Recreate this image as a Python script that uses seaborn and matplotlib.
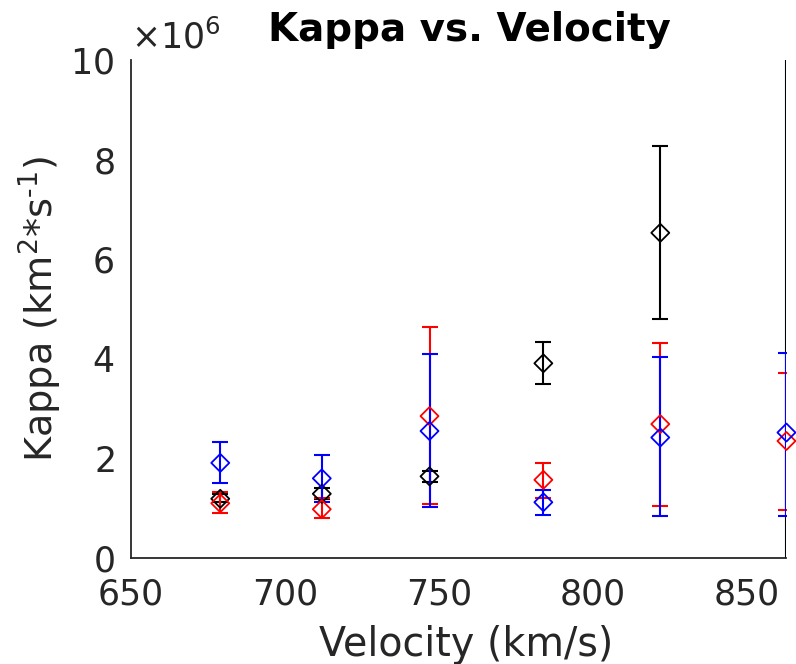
import numpy as np
import matplotlib
matplotlib.use("Agg")
import matplotlib.pyplot as plt
from matplotlib.ticker import ScalarFormatter
import seaborn as sns

# Velocities (km/s) and kappa estimates (in units of 1e6 km^2/s) with error half-widths
velocity = [679, 712, 747, 784, 822, 863]

kappa_black = [1.19, 1.29, 1.64, 3.91, 6.53, 14.0]
err_black_lo = [0.07, 0.11, 0.11, 0.42, 1.74, 15.0]
err_black_hi = [0.10, 0.11, 0.11, 0.43, 1.75, 15.0]

kappa_red = [1.10, 0.98, 2.85, 1.57, 2.69, 2.35]
err_red_lo = [0.19, 0.18, 1.77, 0.36, 1.64, 1.38]
err_red_hi = [0.22, 0.22, 1.78, 0.33, 1.63, 1.36]

kappa_blue = [1.91, 1.60, 2.55, 1.12, 2.42, 2.52]
err_blue_lo = [0.40, 0.47, 1.52, 0.26, 1.58, 1.67]
err_blue_hi = [0.41, 0.47, 1.55, 0.25, 1.61, 1.60]

SCALE = 1e6

sns.set_style("white")
plt.rcParams["font.family"] = ["DejaVu Sans"]
plt.rcParams["mathtext.fontset"] = "dejavusans"

fig = plt.figure(figsize=(7.96, 6.64), dpi=100)
ax = fig.add_axes([0.1646, 0.1596, 0.8234, 0.7500])

txt = "#262626"
series = [
    (kappa_black, err_black_lo, err_black_hi, "black"),
    (kappa_red, err_red_lo, err_red_hi, "red"),
    (kappa_blue, err_blue_lo, err_blue_hi, "blue"),
]

for vals, lo, hi, col in series:
    y = np.array(vals) * SCALE
    yerr = np.vstack([np.array(lo), np.array(hi)]) * SCALE
    ax.errorbar(velocity, y, yerr=yerr, fmt="none", ecolor=col,
                elinewidth=1.5, capsize=5.5, capthick=1.5, zorder=2)
    sns.scatterplot(x=velocity, y=y, ax=ax, marker="D", s=84,
                    color=col, edgecolor=col, linewidth=1.3,
                    clip_on=False, zorder=3, legend=False)
    ax.collections[-1].set_facecolor("none")

ax.set_xlim(650, 863)
ax.set_ylim(0, 10 * SCALE)
ax.set_xticks([650, 700, 750, 800, 850])
ax.set_yticks(np.arange(0, 11, 2) * SCALE)

fmt = ScalarFormatter(useMathText=True)
fmt.set_powerlimits((6, 6))
ax.yaxis.set_major_formatter(fmt)

sns.despine(ax=ax, top=True, right=True)
for side in ("left", "bottom"):
    ax.spines[side].set_color(txt)
    ax.spines[side].set_linewidth(1.3)

ax.tick_params(axis="both", direction="in", length=5, width=1.1,
               colors=txt, labelsize=25)
ax.tick_params(axis="x", pad=14)
ax.tick_params(axis="y", pad=12)
ax.yaxis.OFFSETTEXTPAD = 8
ax.yaxis.get_offset_text().set_fontsize(25)
ax.yaxis.get_offset_text().set_color(txt)

ax.set_xlabel("Velocity (km/s)", fontsize=28.5, color=txt)
ax.xaxis.set_label_coords(0.512, -0.134)
ax.set_ylabel("Kappa (km$^{2}$*s$^{\u20101}$)", fontsize=27.5, color=txt, labelpad=5)
ax.set_title("Kappa vs. Velocity", fontsize=28, fontweight="bold",
             color="black", pad=14, x=0.517)

fig.savefig("out.png", dpi=100)
